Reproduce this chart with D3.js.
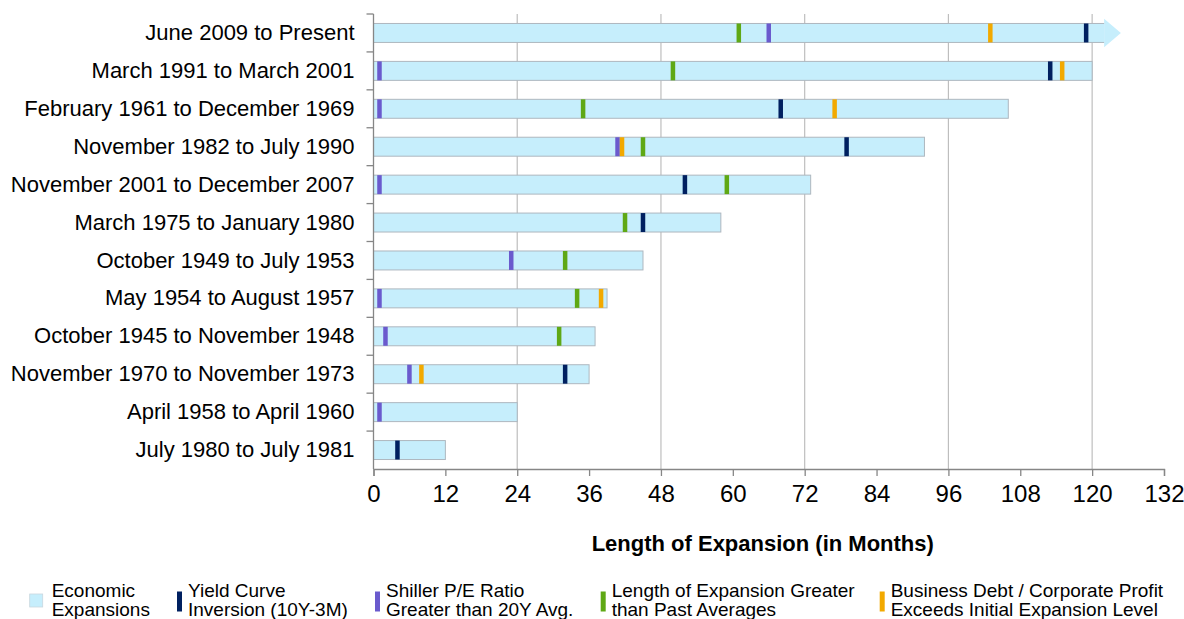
<!DOCTYPE html>
<html>
<head>
<meta charset="utf-8">
<script src="https://cdn.jsdelivr.net/npm/d3@7"></script>
<style>
  html, body { margin: 0; padding: 0; background: #fff; }
  svg { display: block; }
</style>
</head>
<body>
<svg id="chart" width="1184" height="619"></svg>
<script>
// ---------------- data ----------------
const categories = [
  "June 2009 to Present",
  "March 1991 to March 2001",
  "February 1961 to December 1969",
  "November 1982 to July 1990",
  "November 2001 to December 2007",
  "March 1975 to January 1980",
  "October 1949 to July 1953",
  "May 1954 to August 1957",
  "October 1945 to November 1948",
  "November 1970 to November 1973",
  "April 1958 to April 1960",
  "July 1980 to July 1981"
];
const expansionMonths = [122, 120, 106, 92, 73, 58, 45, 39, 37, 36, 24, 12];
const ongoingArrowTip = [124.8, null, null, null, null, null, null, null, null, null, null, null];
const yieldCurveInversion = [119, 113, 68, 79, 52, 45, null, null, null, 32, null, 4];
const shillerPE = [66, 1, 1, 40.75, 1, null, 23, 1, 2, 6, 1, null];
const lengthAboveAvg = [61, 50, 35, 45, 59, 42, 32, 34, 31, null, null, null];
const debtToProfit = [103, 115, 77, 41.5, null, null, null, 38, null, 8, null, null];
const xTickValues = [0, 12, 24, 36, 48, 60, 72, 84, 96, 108, 120, 132];
const gridValues = [24, 48, 72, 96, 120];

const markerSeries = [
  { name: "Shiller P/E Ratio Greater than 20Y Avg.", values: shillerPE, color: "#6A5ACD" },
  { name: "Debt", values: debtToProfit, color: "#F2A900" },
  { name: "Length", values: lengthAboveAvg, color: "#5FA815" },
  { name: "Yield", values: yieldCurveInversion, color: "#002060" }
];

const legendItems = [
  { lines: ["Economic", "Expansions"], type: "box", color: "#C6EEFC" },
  { lines: ["Yield Curve", "Inversion (10Y-3M)"], type: "bar", color: "#002060" },
  { lines: ["Shiller P/E Ratio", "Greater than 20Y Avg."], type: "bar", color: "#6A5ACD" },
  { lines: ["Length of Expansion Greater", "than Past Averages"], type: "bar", color: "#5FA815" },
  { lines: ["Business Debt / Corporate Profit", "Exceeds Initial Expansion Level"], type: "bar", color: "#F2A900" }
];
const legendTextX = [51.7, 188, 386, 611.7, 890.7];

// ---------------- layout ----------------
const svg = d3.select("#chart");
const m = { left: 373.5, right: 1164, top: 14, bottom: 469 };
const x = d3.scaleLinear().domain([0, 132]).range([m.left, m.right]);
const y = d3.scaleBand().domain(categories).range([m.top, m.bottom]).paddingInner(0.5).paddingOuter(0.25);
const FONT = "'Liberation Sans', Arial, Helvetica, sans-serif";
const NARROW = "'Liberation Sans Narrow', 'Arial Narrow', 'Liberation Sans', Arial, sans-serif";

// gridlines
svg.append("g").selectAll("line").data(gridValues).join("line")
  .attr("x1", d => x(d)).attr("x2", d => x(d))
  .attr("y1", m.top).attr("y2", m.bottom)
  .attr("stroke", "#BEBEBE").attr("stroke-width", 1.2);

// bars
const bw = y.bandwidth();
const rows = svg.append("g");
categories.forEach((c, i) => {
  const yy = y(c);
  const g = rows.append("g");
  if (ongoingArrowTip[i] != null) {
    const x0 = x(expansionMonths[i]);
    const xt = x(ongoingArrowTip[i]);
    const cy = yy + bw / 2;
    g.append("path")
      .attr("d", `M${x0},${cy - bw * 0.75}L${xt},${cy}L${x0},${cy + bw * 0.75}Z`)
      .attr("fill", "#C6EEFC");
    g.append("rect")
      .attr("x", x(0)).attr("y", yy)
      .attr("width", x0 - x(0)).attr("height", bw)
      .attr("fill", "#C6EEFC");
    g.append("path")
      .attr("d", `M${x(0)},${yy}H${x0}M${x(0)},${yy + bw}H${x0}`)
      .attr("stroke", "#AEB7BF").attr("stroke-width", 1).attr("fill", "none");
  } else {
    g.append("rect")
      .attr("x", x(0)).attr("y", yy)
      .attr("width", x(expansionMonths[i]) - x(0)).attr("height", bw)
      .attr("fill", "#C6EEFC").attr("stroke", "#AEB7BF").attr("stroke-width", 1);
  }
});

// markers
const mw = 4.5;
markerSeries.forEach(s => {
  svg.append("g").selectAll("rect")
    .data(categories.map((c, i) => ({ c, v: s.values[i] })).filter(d => d.v != null))
    .join("rect")
    .attr("x", d => x(d.v) - mw / 2)
    .attr("y", d => y(d.c))
    .attr("width", mw)
    .attr("height", bw)
    .attr("fill", s.color);
});

// y axis
const yAxis = d3.axisLeft(y).tickSize(0).tickPadding(19);
const yg = svg.append("g").attr("transform", `translate(${m.left},0)`).call(yAxis);
yg.select(".domain").remove();
yg.selectAll("text").attr("font-family", FONT).attr("font-size", "22px").attr("fill", "#000");
// y axis line and boundary ticks
svg.append("line").attr("x1", m.left).attr("x2", m.left).attr("y1", m.top).attr("y2", m.bottom)
  .attr("stroke", "#868686").attr("stroke-width", 1.3);
svg.append("g").selectAll("line").data(categories.map((c, i) => i)).join("line")
  .attr("x1", m.left - 7).attr("x2", m.left)
  .attr("y1", k => y(categories[k]) - y.step() * 0.25)
  .attr("y2", k => y(categories[k]) - y.step() * 0.25)
  .attr("stroke", "#868686").attr("stroke-width", 1.3);

// x axis
const xAxis = d3.axisBottom(x).tickValues(xTickValues).tickSize(7).tickPadding(9).tickFormat(d3.format("d"));
const xg = svg.append("g").attr("transform", `translate(0,${m.bottom})`).call(xAxis);
xg.select(".domain").attr("stroke", "#868686").attr("stroke-width", 1.3);
xg.selectAll(".tick line").attr("stroke", "#868686").attr("stroke-width", 1.3);
xg.selectAll("text").attr("font-family", NARROW).attr("font-size", "24px").attr("fill", "#000");

// axis title
svg.append("text")
  .attr("x", (m.left + m.right) / 2 - 6).attr("y", 551)
  .attr("text-anchor", "middle")
  .attr("font-family", FONT).attr("font-size", "22px").attr("font-weight", "bold")
  .text("Length of Expansion (in Months)");

// legend
const lg = svg.append("g");
legendItems.forEach((it, i) => {
  const tx = legendTextX[i];
  if (it.type === "box") {
    lg.append("rect").attr("x", tx - 22).attr("y", 594).attr("width", 13).attr("height", 13)
      .attr("fill", it.color).attr("stroke", "#C8D6DE").attr("stroke-width", 0.8);
  } else {
    lg.append("rect").attr("x", tx - 11).attr("y", 591.5).attr("width", 5).attr("height", 20)
      .attr("fill", it.color);
  }
  it.lines.forEach((ln, j) => {
    lg.append("text").attr("x", tx).attr("y", 597 + j * 19)
      .attr("font-family", FONT).attr("font-size", "19px").attr("fill", "#000")
      .text(ln);
  });
});
</script>
</body>
</html>
